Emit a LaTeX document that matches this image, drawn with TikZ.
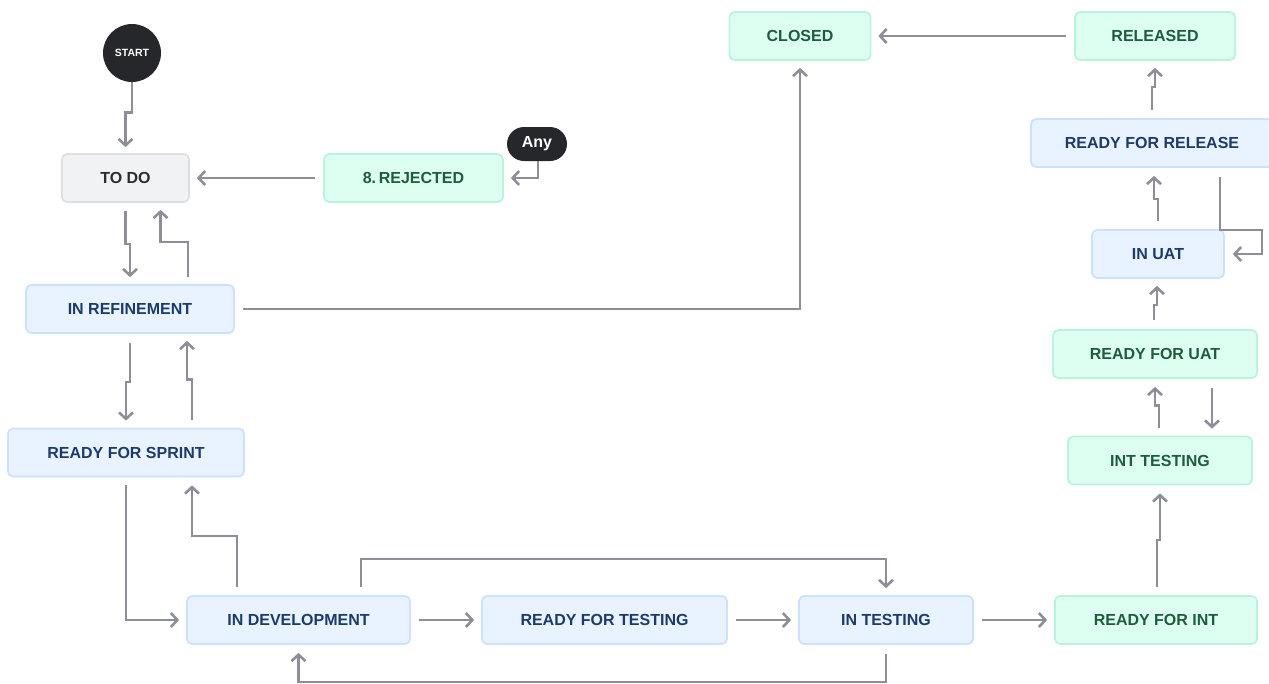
\documentclass[tikz,border=0pt]{standalone}
\usepackage{fontspec}
\setmainfont{Liberation Sans}
\usetikzlibrary{arrows.meta,calc}
\definecolor{bfill}{HTML}{E9F2FF}
\definecolor{bdraw}{HTML}{CCE0FF}
\definecolor{btext}{HTML}{1C3B6A}
\definecolor{gfill}{HTML}{DCFFF1}
\definecolor{gdraw}{HTML}{BAF3DB}
\definecolor{gtext}{HTML}{1F5C3E}
\definecolor{kfill}{HTML}{F1F2F4}
\definecolor{kdraw}{HTML}{DCDFE4}
\definecolor{ktext}{HTML}{2C2D30}
\definecolor{dark}{HTML}{25272B}
\definecolor{lc}{HTML}{8C8F97}
\begin{document}
\begin{tikzpicture}[x=1pt,y=-1pt,
  state/.style={draw, rounded corners=5pt, line width=1.7pt, minimum height=48pt, inner sep=0pt,
    font=\fontsize{16}{18}\selectfont\bfseries},
  bluebox/.style={state, fill=bfill, draw=bdraw, text=btext},
  greenbox/.style={state, fill=gfill, draw=gdraw, text=gtext},
  graybox/.style={state, fill=kfill, draw=kdraw, text=ktext},
  conn/.style={draw=lc, line width=2.6pt, -{Straight Barb[length=6.5pt,width=14pt]}}]
\useasboundingbox (0,0) rectangle (1269,683);

\node[circle, fill=dark, text=white, minimum size=58pt, inner sep=0pt,
  font=\fontsize{10.5}{12}\selectfont\bfseries] (start) at (132,53) {START};
\node[graybox, minimum width=127pt] (todo) at (125.5,178) {TO DO};
\node[greenbox, minimum width=179pt] (rej) at (413.5,178) {8.\,REJECTED};
\node[fill=dark, text=white, rounded corners=17pt, minimum width=60pt, minimum height=34pt, inner sep=0pt,
  font=\fontsize{16}{18}\selectfont\bfseries] (any) at (537,144) {Any};
\node[bluebox, minimum width=208pt] (inref) at (130,309) {IN REFINEMENT};
\node[bluebox, minimum width=236pt] (rfs) at (126,452.5) {READY FOR SPRINT};
\node[bluebox, minimum width=223pt] (indev) at (298.5,620) {IN DEVELOPMENT};
\node[bluebox, minimum width=245pt] (rft) at (604.5,620) {READY FOR TESTING};
\node[bluebox, minimum width=174pt] (intest) at (886,620) {IN TESTING};
\node[greenbox, minimum width=202pt] (rfi) at (1156,620) {READY FOR INT};
\node[greenbox, minimum width=184pt] (inttest) at (1160,460.5) {INT TESTING};
\node[greenbox, minimum width=204pt] (rfuat) at (1155,354) {READY FOR UAT};
\node[bluebox, minimum width=132pt] (inuat) at (1158,254) {IN UAT};
\node[bluebox, minimum width=242pt] (rfr) at (1152,143) {READY FOR RELEASE};
\node[greenbox, minimum width=160pt] (released) at (1155,36) {RELEASED};
\node[greenbox, minimum width=141pt] (closed) at (800,36) {CLOSED};

\draw[conn] (start.south) -- ++(0,30) -| ($(todo.north)+(0,-6)$);
\draw[conn] ($(todo.south)+(0,8)$) -- ++(0,33) -| ($(inref.north)+(0,-7)$);
\draw[conn] ($(inref.north)+(58,-7)$) -- ++(0,-35) -| ($(todo.south)+(35,7)$);
\draw[conn] ($(rej.west)+(-8,0)$) -- ($(todo.east)+(7,0)$);
\draw[conn] ($(any.south)+(1,0)$) |- ($(rej.east)+(7,0)$);
\draw[conn] ($(inref.east)+(8,0)$) -| ($(closed.south)+(0,7)$);
\draw[conn] ($(inref.south)+(0,9)$) -- ++(0,39) -| ($(rfs.north)+(0,-7)$);
\draw[conn] ($(rfs.north)+(66,-8)$) -- ++(0,-40) -| ($(inref.south)+(57,7)$);
\draw[conn] ($(rfs.south)+(0,8)$) |- ($(indev.west)+(-7,0)$);
\draw[conn] ($(indev.north)+(-61.5,-8)$) -- ++(0,-51) -| ($(rfs.south)+(66,8)$);
\draw[conn] ($(indev.north)+(62.5,-8)$) -- ++(0,-28) -| ($(intest.north)+(0,-7)$);
\draw[conn] ($(indev.east)+(8,0)$) -- ($(rft.west)+(-7,0)$);
\draw[conn] ($(rft.east)+(8,0)$) -- ($(intest.west)+(-7,0)$);
\draw[conn] ($(intest.south)+(0,9)$) -- ++(0,28) -| ($(indev.south)+(0,8)$);
\draw[conn] ($(intest.east)+(8,0)$) -- ($(rfi.west)+(-7,0)$);
\draw[conn] ($(rfi.north)+(1,-8)$) -- ++(0,-47) -| ($(inttest.south)+(0,8)$);
\draw[conn] ($(inttest.north)+(-1,-8)$) -- ++(0,-22) -| ($(rfuat.south)+(0,8)$);
\draw[conn] ($(rfuat.south)+(57,9)$) -- ($(inttest.north)+(52,-7)$);
\draw[conn] ($(rfuat.north)+(-1,-9)$) -- ++(0,-15) -| ($(inuat.south)+(-1,7)$);
\draw[conn] ($(inuat.north)+(0,-8)$) -- ++(0,-22) -| ($(rfr.south)+(2,8)$);
\draw[conn] ($(rfr.south)+(68,9)$) -- ++(0,53) -- ++(42,0) |- ($(inuat.east)+(8,0)$);
\draw[conn] ($(rfr.north)+(0,-8)$) -- ++(0,-23) -| ($(released.south)+(0,7)$);
\draw[conn] ($(released.west)+(-8,0)$) -- ($(closed.east)+(7,0)$);
\end{tikzpicture}
\end{document}
